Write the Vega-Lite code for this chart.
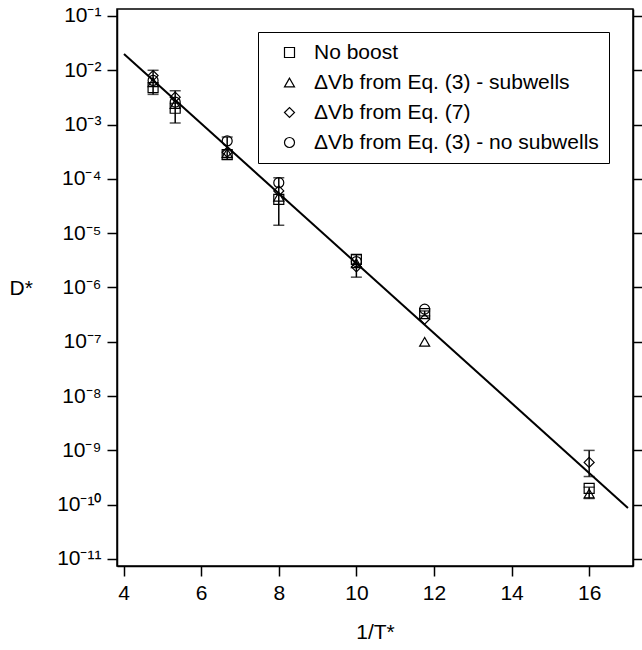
{
  "$schema": "https://vega.github.io/schema/vega-lite/v6.json",
  "width": 516,
  "height": 557,
  "autosize": {"type": "none"},
  "padding": {"left": 117, "top": 9, "right": 9, "bottom": 84},
  "background": "white",
  "config": {
    "font": "Liberation Sans",
    "view": {"stroke": "black", "strokeWidth": 1.5},
    "axis": {
      "grid": false,
      "domainColor": "black",
      "domainWidth": 1.5,
      "tickColor": "black",
      "tickWidth": 1.5,
      "tickSize": 10,
      "labelColor": "black",
      "labelFontSize": 21,
      "titleColor": "black",
      "titleFontSize": 21,
      "titleFontWeight": "normal"
    }
  },
  "datasets": {
    "pts": [
      {"x": 4.76, "D": 4.8e-3, "series": "No boost"},
      {"x": 5.33, "D": 2.0e-3, "series": "No boost"},
      {"x": 6.67, "D": 2.8e-4, "series": "No boost"},
      {"x": 8.0, "D": 4.2e-5, "series": "No boost"},
      {"x": 10.0, "D": 3.3e-6, "series": "No boost"},
      {"x": 11.76, "D": 3.3e-7, "series": "No boost"},
      {"x": 16.0, "D": 2.0e-10, "series": "No boost"},
      {"x": 4.76, "D": 6.0e-3, "series": "ΔVb from Eq. (3) - subwells"},
      {"x": 5.33, "D": 2.4e-3, "series": "ΔVb from Eq. (3) - subwells"},
      {"x": 6.67, "D": 3.0e-4, "series": "ΔVb from Eq. (3) - subwells"},
      {"x": 8.0, "D": 4.7e-5, "series": "ΔVb from Eq. (3) - subwells"},
      {"x": 10.0, "D": 2.8e-6, "series": "ΔVb from Eq. (3) - subwells"},
      {"x": 11.76, "D": 1.0e-7, "series": "ΔVb from Eq. (3) - subwells"},
      {"x": 16.0, "D": 1.6e-10, "series": "ΔVb from Eq. (3) - subwells"},
      {"x": 4.76, "D": 8.0e-3, "series": "ΔVb from Eq. (7)"},
      {"x": 5.33, "D": 3.2e-3, "series": "ΔVb from Eq. (7)"},
      {"x": 6.67, "D": 3.1e-4, "series": "ΔVb from Eq. (7)"},
      {"x": 8.0, "D": 6.0e-5, "series": "ΔVb from Eq. (7)"},
      {"x": 10.0, "D": 2.4e-6, "series": "ΔVb from Eq. (7)"},
      {"x": 11.76, "D": 2.6e-7, "series": "ΔVb from Eq. (7)"},
      {"x": 16.0, "D": 6.0e-10, "series": "ΔVb from Eq. (7)"},
      {"x": 4.76, "D": 6.5e-3, "series": "ΔVb from Eq. (3) - no subwells"},
      {"x": 5.33, "D": 2.6e-3, "series": "ΔVb from Eq. (3) - no subwells"},
      {"x": 6.67, "D": 5.0e-4, "series": "ΔVb from Eq. (3) - no subwells"},
      {"x": 8.0, "D": 8.5e-5, "series": "ΔVb from Eq. (3) - no subwells"},
      {"x": 10.0, "D": 3.0e-6, "series": "ΔVb from Eq. (3) - no subwells"},
      {"x": 11.76, "D": 4.0e-7, "series": "ΔVb from Eq. (3) - no subwells"}
    ],
    "errs": [
      {"x": 4.76, "lo": 3.6e-3, "hi": 1.0e-2},
      {"x": 5.33, "lo": 1.07e-3, "hi": 4.2e-3},
      {"x": 6.67, "lo": 2.3e-4, "hi": 5.9e-4},
      {"x": 8.0, "lo": 1.4e-5, "hi": 1.05e-4},
      {"x": 10.0, "lo": 1.55e-6, "hi": 4.0e-6},
      {"x": 11.76, "lo": 3.0e-7, "hi": 3.7e-7},
      {"x": 16.0, "lo": 3.3e-10, "hi": 1.0e-9},
      {"x": 16.0, "lo": 1.3e-10, "hi": 2.1e-10}
    ],
    "fit": [
      {"x": 4.01, "D": 2.0e-2},
      {"x": 17.0, "D": 8.7e-11}
    ]
  },
  "resolve": {"axis": {"y": "independent"}},
  "layer": [
    {
      "data": {"name": "fit"},
      "mark": {"type": "line", "color": "black", "strokeWidth": 2},
      "encoding": {
        "x": {"field": "x", "type": "quantitative",
              "scale": {"domain": [3.83, 17.13], "nice": false, "zero": false},
              "axis": {"values": [4, 6, 8, 10, 12, 14, 16], "title": "1/T*", "labelFontSize": 21, "titleFontSize": 21, "labelPadding": 6, "titlePadding": 18}},
        "y": {"field": "D", "type": "quantitative",
              "scale": {"type": "log", "domain": [7.43e-12, 0.1345], "nice": false},
              "axis": {"orient": "right", "labels": false, "title": null,
                       "values": [1e-1, 1e-2, 1e-3, 1e-4, 1e-5, 1e-6, 1e-7, 1e-8, 1e-9, 1e-10, 1e-11], "tickSize": 9}}
      }
    },
    {
      "data": {"name": "errs"},
      "mark": {"type": "errorbar", "color": "black", "thickness": 1.5, "ticks": {"size": 11, "color": "black", "thickness": 1.5}},
      "encoding": {
        "x": {"field": "x", "type": "quantitative"},
        "y": {"field": "lo", "type": "quantitative", "axis": null},
        "y2": {"field": "hi"}
      }
    },
    {
      "data": {"name": "pts"},
      "mark": {"type": "point", "filled": false, "stroke": "black", "strokeWidth": 1.2, "size": 100, "opacity": 1},
      "encoding": {
        "x": {"field": "x", "type": "quantitative"},
        "y": {"field": "D", "type": "quantitative",
              "axis": {"title": "D*", "titleAngle": 0, "titleX": -108, "titleY": 279, "titleAlign": "left", "titleBaseline": "middle",
                       "labelFontSize": 21, "titleFontSize": 21,
                       "values": [1e-1, 1e-2, 1e-3, 1e-4, 1e-5, 1e-6, 1e-7, 1e-8, 1e-9, 1e-10, 1e-11],
                       "labelExpr": "'10' + ['⁰','⁻¹','⁻²','⁻³','⁻⁴','⁻⁵','⁻⁶','⁻⁷','⁻⁸','⁻⁹','⁻¹⁰','⁻¹¹'][round(-log(datum.value)/LN10)]",
                       "labelPadding": 6}},
        "shape": {"field": "series", "type": "nominal",
                  "scale": {"domain": ["No boost", "ΔVb from Eq. (3) - subwells", "ΔVb from Eq. (7)", "ΔVb from Eq. (3) - no subwells"],
                            "range": ["square", "triangle-up", "diamond", "circle"]},
                  "legend": {"title": null, "orient": "none", "legendX": 141, "legendY": 23,
                             "strokeColor": "black", "fillColor": "white", "padding": 10,
                             "labelFontSize": 21, "labelColor": "black", "rowPadding": 8, "labelLimit": 400,
                             "symbolSize": 100, "symbolStrokeColor": "black", "symbolFillColor": "transparent", "symbolStrokeWidth": 1.2,
                             "symbolOffset": 11, "labelOffset": 14}}
      }
    }
  ]
}
